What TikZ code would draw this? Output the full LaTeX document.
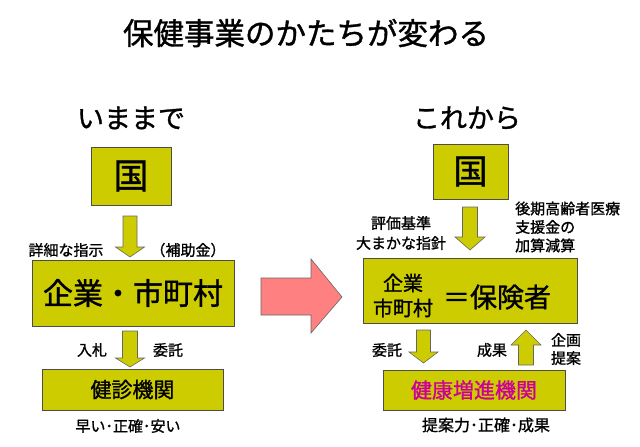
\documentclass[tikz,border=0pt]{standalone}
\usepackage{fontspec}
\setmainfont{Noto Sans CJK JP}[FakeBold=1.2]
\usetikzlibrary{positioning}

\definecolor{boxolive}{RGB}{204,204,0}
\definecolor{arrowpink}{RGB}{255,128,128}
\definecolor{textmagenta}{RGB}{204,0,153}

\newcommand{\fsz}[2]{\fontsize{#1}{#2}\selectfont}
% block arrow: centre x, tail y, head base y, tip y, shaft half width, head half width
\newcommand{\blockarr}[6]{%
  \draw[blockstyle] (#1-#5,#2) -- (#1+#5,#2) -- (#1+#5,#3) -- (#1+#6,#3)
    -- (#1,#4) -- (#1-#6,#3) -- (#1-#5,#3) -- cycle;}

\tikzset{
  olivebox/.style={draw=black!70, line width=0.8pt, fill=boxolive,
    inner sep=0pt, outer sep=0pt},
  blockstyle/.style={draw=black!60, line width=0.6pt, fill=boxolive},
  lbl/.style={inner sep=0pt, font=\fsz{15}{19}, align=center}
}

\begin{document}
\begin{tikzpicture}[x=1pt, y=-1pt]
    \useasboundingbox (0,0) rectangle (640,447);

    % Title
    \node[inner sep=0pt, font=\fsz{30.5}{36}] (title) at (306,33) {保健事業のかたちが変わる};

    % Left side: before
    \node[inner sep=0pt, font=\fsz{27}{32}] (before) at (131,118) {いままで};
    \node[olivebox, minimum width=80, minimum height=58, font=\fsz{35}{40}] (kuniL) at (131,176) {国};
    \node[olivebox, minimum width=202, minimum height=66, font=\fsz{30}{36}] (kigyoL) at (133,293) {企業・市町村};
    \node[olivebox, minimum width=181, minimum height=41, font=\fsz{21}{25}] (kenshin) at (132.5,389.5) {健診機関};
    \blockarr{130}{216}{247}{257}{7}{14.5}
    \blockarr{130}{331}{358}{367}{7.5}{14.5}
    \node[lbl] (shiji) at (66,250) {詳細な指示};
    \node[lbl] (hojo) at (188,250) {（補助金）};
    \node[lbl] (nyusatsu) at (92,350) {入札};
    \node[lbl] (itakuL) at (168,350) {委託};
    \node[lbl] (hayai) at (128,426) {早い･正確･安い};

    % Middle arrow
    \draw[draw=black!60, line width=0.6pt, fill=arrowpink]
        (261,278) -- (311,278) -- (311,259) -- (342,297) -- (311,333)
        -- (311,315) -- (261,315) -- cycle;

    % Right side: after
    \node[inner sep=0pt, font=\fsz{27}{32}] (after) at (467,118) {これから};
    \node[olivebox, minimum width=75, minimum height=55, font=\fsz{34}{40}] (kuniR) at (470.5,171.5) {国};
    \node[olivebox, minimum width=214, minimum height=65] (hoken) at (470,290.5) {};
    \node[inner sep=0pt, align=center, font=\fsz{20}{25}] (kigyoR) at (403,295.5) {企業\\市町村};
    \node[inner sep=0pt, font=\fsz{27}{32}] (hokensha) at (497,297) {＝保険者};
    \node[olivebox, minimum width=182, minimum height=40, font=\fsz{21}{25}, text=textmagenta] (kenko) at (474,390) {健康増進機関};
    \blockarr{470}{207}{237}{250}{7.5}{15}
    \blockarr{423.5}{330}{352}{363}{7}{14.5}
    \blockarr{526}{365}{345}{330}{7.5}{15}
    \node[lbl, font=\fsz{15}{20}] (hyoka) at (401,233) {評価基準\\大まかな指針};
    \node[lbl, font=\fsz{15}{18.5}, align=left, anchor=west] (shien) at (515,227) {後期高齢者医療\\支援金の\\加算減算};
    \node[lbl] (itakuR) at (387,350) {委託};
    \node[lbl] (seika) at (492,350) {成果};
    \node[lbl, font=\fsz{15}{18}] (kikaku) at (566,349) {企画\\提案};
    \node[lbl, font=\fsz{16}{19}] (teian) at (486,425) {提案力･正確･成果};
\end{tikzpicture}
\end{document}
